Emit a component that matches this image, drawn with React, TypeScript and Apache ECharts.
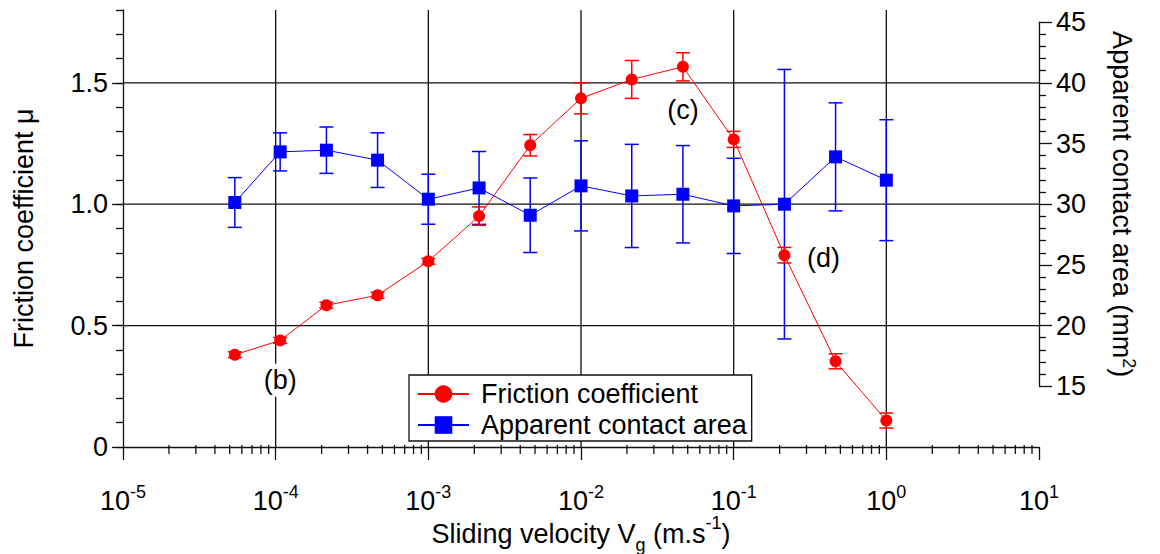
import React, { useEffect, useRef } from 'react';
import * as echarts from 'echarts';

// ---- data ----
const velocity = [5.4e-5, 1.07e-4, 2.15e-4, 4.65e-4, 1.0e-3, 2.15e-3, 4.65e-3, 1.0e-2, 2.15e-2, 4.65e-2, 0.1, 0.215, 0.465, 1.0];
const friction = [0.38, 0.439, 0.584, 0.625, 0.765, 0.951, 1.243, 1.436, 1.514, 1.566, 1.267, 0.79, 0.353, 0.109];
const frictionErr = [0.012, 0.012, 0.012, 0.012, 0.012, 0.038, 0.044, 0.064, 0.078, 0.058, 0.033, 0.032, 0.031, 0.031];
const area = [30.14, 34.31, 34.45, 33.63, 30.41, 31.34, 29.09, 31.51, 30.68, 30.82, 29.86, 30.0, 33.9, 31.98];
const areaErr = [2.05, 1.57, 1.91, 2.25, 2.06, 3.0, 3.07, 3.71, 4.25, 4.01, 3.92, 11.1, 4.45, 4.98];

const frictionTicks = [0, 0.5, 1.0, 1.5];
const frictionGridLines = [0.5, 1.0, 1.5];
const velocityGridLines = [1e-4, 1e-3, 1e-2, 1e-1, 1];
const decadeExponents = [-5, -4, -3, -2, -1, 0];
const minorMultipliers = [2, 3, 4, 5, 6, 7, 8, 9];

const annotationLabels = ['(b)', '(c)', '(d)'];
const annotationX = [1.07e-4, 4.65e-2, 0.387];
const annotationY = [0.275, 1.388, 0.78];

const FONT = "'Liberation Sans', Arial, Helvetica, sans-serif";
const FS = 27;
const FS_SMALL = 18;
const RED = '#ff0000';
const BLUE = '#0000ff';
const INK = '#111111';

const X_MIN = 1e-5;
const X_MAX = 10;
const Y_MIN = 0;
const Y_MAX = 1.8;

export default function App() {
  const ref = useRef<HTMLDivElement>(null);

  useEffect(() => {
    document.body.style.margin = '0';
    const chart = echarts.init(ref.current!, null, { renderer: 'svg' });

    const minorTickValues: number[] = [];
    decadeExponents.forEach((e) => minorMultipliers.forEach((m) => minorTickValues.push(m * Math.pow(10, e))));

    const errorBar = (color: string) => (params: any, api: any) => {
      const x = api.value(0);
      const lo = api.coord([x, api.value(1)]);
      const hi = api.coord([x, api.value(2)]);
      const cap = 7;
      const style = { stroke: color, lineWidth: 1.5 };
      return {
        type: 'group',
        children: [
          { type: 'line', shape: { x1: lo[0], y1: lo[1], x2: hi[0], y2: hi[1] }, style },
          { type: 'line', shape: { x1: lo[0] - cap, y1: lo[1], x2: lo[0] + cap, y2: lo[1] }, style },
          { type: 'line', shape: { x1: hi[0] - cap, y1: hi[1], x2: hi[0] + cap, y2: hi[1] }, style },
        ],
      };
    };

    const gridStyle = { stroke: INK, lineWidth: 1.3 };

    const option: any = {
      animation: false,
      textStyle: { fontFamily: FONT, color: '#000' },
      grid: [
        { left: 123, right: 121, top: 10, bottom: 107, containLabel: false, outerBoundsMode: 'none' },
        { left: 123, right: 121, top: 22.1, bottom: 167.7, containLabel: false, outerBoundsMode: 'none' },
      ],
      legend: {
        data: ['Friction coefficient', 'Apparent contact area'],
        orient: 'vertical',
        left: 409,
        top: 375,
        itemWidth: 51,
        itemHeight: 22,
        itemGap: 1,
        padding: [4, 5, 1, 8],
        borderColor: INK,
        borderWidth: 1.3,
        backgroundColor: '#fff',
        textStyle: { fontSize: FS, color: '#000', fontFamily: FONT, lineHeight: 30, padding: [0, 0, 0, 7] },
      },
      xAxis: [
        {
          type: 'log',
          logBase: 10,
          gridIndex: 0,
          min: X_MIN,
          max: X_MAX,
          splitNumber: 6,
          axisLine: { show: true, onZero: false, lineStyle: { color: INK, width: 1.3 } },
          axisTick: { show: true, length: 13, lineStyle: { color: INK, width: 1.3 } },
          minorTick: { show: false },
          splitLine: { show: false },
          axisLabel: {
            margin: 36,
            formatter: (v: number) => `{b|10}{s|${Math.round(Math.log10(v))}}`,
            rich: {
              b: { fontSize: FS, lineHeight: 36, fontFamily: FONT, color: '#000' },
              s: { fontSize: FS_SMALL, lineHeight: 5, verticalAlign: 'top', fontFamily: FONT, color: '#000' },
            },
          },
          name: '{t|Sliding velocity V}{sub|g}{t| (m.s}{sup|-1}{t|)}',
          nameLocation: 'middle',
          nameGap: 67,
          nameMoveOverlap: false,
          nameTextStyle: {
            rich: {
              t: { fontSize: FS, lineHeight: 40, fontFamily: FONT, color: '#000' },
              sub: { fontSize: FS_SMALL, lineHeight: 17, verticalAlign: 'bottom', fontFamily: FONT, color: '#000' },
              sup: { fontSize: FS_SMALL, lineHeight: 16, verticalAlign: 'top', fontFamily: FONT, color: '#000' },
            },
          },
        },
        { type: 'log', logBase: 10, gridIndex: 1, min: X_MIN, max: X_MAX, show: false },
      ],
      yAxis: [
        {
          type: 'value',
          gridIndex: 0,
          position: 'left',
          min: Y_MIN,
          max: Y_MAX,
          interval: 0.5,
          axisLine: { show: true, lineStyle: { color: INK, width: 1.3 } },
          axisTick: { show: true, length: 11, customValues: frictionTicks, lineStyle: { color: INK, width: 1.3 } },
          axisLabel: {
            customValues: frictionTicks,
            margin: 15,
            fontSize: FS,
            color: '#000',
            fontFamily: FONT,
            formatter: (v: number) => (v === 0 ? '0' : Math.abs(v * 2 - Math.round(v * 2)) < 1e-6 ? v.toFixed(1) : ''),
          },
          splitLine: { show: false },
          name: 'Friction coefficient μ',
          nameLocation: 'middle',
          nameGap: 86,
          nameMoveOverlap: false,
          nameTextStyle: { fontSize: FS, color: '#000', fontFamily: FONT },
        },
        {
          type: 'value',
          gridIndex: 1,
          position: 'right',
          min: 15,
          max: 45,
          interval: 5,
          axisLine: { show: true, lineStyle: { color: INK, width: 1.3 } },
          axisTick: { show: true, length: 13, lineStyle: { color: INK, width: 1.3 } },
          minorTick: { show: true, splitNumber: 5, length: 7, lineStyle: { color: INK, width: 1.3 } },
          axisLabel: { margin: 17, fontSize: FS, color: '#000', fontFamily: FONT },
          splitLine: { show: false },
          name: '{t|Apparent contact area (mm}{sup|2}{t|)}',
          nameLocation: 'middle',
          nameRotate: -90,
          nameGap: 67,
          nameMoveOverlap: false,
          nameTextStyle: {
            rich: {
              t: { fontSize: FS, lineHeight: 32, fontFamily: FONT, color: '#000' },
              sup: { fontSize: FS_SMALL, lineHeight: 12, verticalAlign: 'top', fontFamily: FONT, color: '#000' },
            },
          },
        },
        {
          type: 'value',
          gridIndex: 0,
          position: 'left',
          min: Y_MIN,
          max: Y_MAX,
          interval: 0.1,
          axisLine: { show: false },
          axisTick: { show: true, length: 7, lineStyle: { color: INK, width: 1.3 } },
          axisLabel: { show: false },
          splitLine: { show: false },
        },
      ],
      series: [
        // horizontal grid lines
        {
          type: 'custom',
          xAxisIndex: 0,
          yAxisIndex: 0,
          clip: false,
          silent: true,
          z: 1,
          data: frictionGridLines.map((v) => [X_MIN, v]),
          renderItem: (params: any, api: any) => {
            const a = api.coord([X_MIN, api.value(1)]);
            const b = api.coord([X_MAX, api.value(1)]);
            return { type: 'line', shape: { x1: a[0], y1: a[1], x2: b[0], y2: b[1] }, style: gridStyle };
          },
        },
        // vertical grid lines
        {
          type: 'custom',
          xAxisIndex: 0,
          yAxisIndex: 0,
          clip: false,
          silent: true,
          z: 1,
          data: velocityGridLines.map((v) => [v, 0]),
          renderItem: (params: any, api: any) => {
            const a = api.coord([api.value(0), Y_MIN]);
            const b = api.coord([api.value(0), Y_MAX]);
            return { type: 'line', shape: { x1: a[0], y1: a[1], x2: b[0], y2: b[1] }, style: gridStyle };
          },
        },
        // minor ticks of the log axis
        {
          type: 'custom',
          xAxisIndex: 0,
          yAxisIndex: 0,
          clip: false,
          silent: true,
          z: 1,
          data: minorTickValues.map((v) => [v, 0]),
          renderItem: (params: any, api: any) => {
            const p = api.coord([api.value(0), 0]);
            return {
              type: 'line',
              shape: { x1: p[0], y1: p[1] - 2, x2: p[0], y2: p[1] + 7 },
              style: gridStyle,
            };
          },
        },
        {
          type: 'custom',
          xAxisIndex: 1,
          yAxisIndex: 1,
          clip: false,
          z: 2,
          data: velocity.map((v, i) => [v, area[i] - areaErr[i], area[i] + areaErr[i]]),
          renderItem: errorBar(BLUE),
        },
        {
          name: 'Apparent contact area',
          type: 'line',
          xAxisIndex: 1,
          yAxisIndex: 1,
          z: 3,
          data: velocity.map((v, i) => [v, area[i]]),
          symbol: 'rect',
          symbolSize: 13,
          lineStyle: { color: BLUE, width: 1 },
          itemStyle: { color: BLUE },
        },
        {
          type: 'custom',
          xAxisIndex: 0,
          yAxisIndex: 0,
          clip: false,
          z: 4,
          data: velocity.map((v, i) => [v, friction[i] - frictionErr[i], friction[i] + frictionErr[i]]),
          renderItem: errorBar(RED),
        },
        {
          name: 'Friction coefficient',
          type: 'line',
          xAxisIndex: 0,
          yAxisIndex: 0,
          z: 5,
          data: velocity.map((v, i) => [v, friction[i]]),
          symbol: 'circle',
          symbolSize: 12,
          lineStyle: { color: RED, width: 1 },
          itemStyle: { color: RED },
          markPoint: {
            symbol: 'circle',
            symbolSize: 1,
            itemStyle: { color: 'rgba(0,0,0,0)' },
            label: {
              show: true,
              position: 'inside',
              formatter: '{b}',
              fontSize: FS,
              color: '#000',
              fontFamily: FONT,
              backgroundColor: '#fff',
              padding: [3, 1],
            },
            data: annotationLabels.map((n, i) => ({ name: n, coord: [annotationX[i], annotationY[i]] })),
          },
        },
      ],
    };

    chart.setOption(option);
    return () => chart.dispose();
  }, []);

  return <div ref={ref} style={{ width: 1160, height: 554, position: 'absolute', left: 0, top: 0 }} />;
}
